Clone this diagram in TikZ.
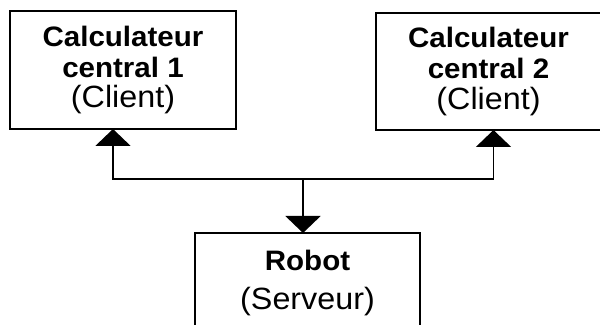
\documentclass[tikz,border=0pt]{standalone}
\usepackage{fontspec}
\setmainfont{Liberation Sans}[FakeStretch=1.05]
\usetikzlibrary{arrows.meta}
\usetikzlibrary{calc}
\tikzset{
  unitbox/.style={draw,line width=1.1pt,align=center,inner sep=0mm,outer sep=0mm,minimum width=#1,font=\fontsize{16}{17.5}\selectfont},
  link/.style={line width=1.1pt},
  linkarrow/.style={link,-{Triangle[width=0.7cm,length=0.34cm]}}
}
\newcommand\unittitle[1]{{\bfseries #1}}
\newcommand\unitrole[1]{{\fontsize{17.5}{17.5}\selectfont #1}}

\begin{document}
\begin{tikzpicture}
\useasboundingbox (0,0) rectangle (12,-6.5);
\clip (0,0) rectangle (12,-6.5);
\node[unitbox=4.52cm,minimum height=2.36cm] (calc1) at (2.46,-1.40) {\unittitle{Calculateur}\\\unittitle{central 1}\\\unitrole{(Client)}};
\node[unitbox=4.5cm,minimum height=2.34cm] (calc2) at (9.77,-1.43) {\unittitle{Calculateur}\\\unittitle{central 2}\\\unitrole{(Client)}};
\node[unitbox=4.5cm,minimum height=2.0cm] (robot) at (6.15,-5.66) {\unittitle{Robot}\\[5pt]\unitrole{(Serveur)}};
\coordinate (hub) at (6.06,-3.58);
\draw[linkarrow] (hub) -| ([xshift=-0.2cm]calc1.south);
\draw[linkarrow] (hub) -| ([xshift=0.1cm]calc2.south);
\draw[linkarrow] (hub) -- (hub |- robot.north);
\end{tikzpicture}
\end{document}
